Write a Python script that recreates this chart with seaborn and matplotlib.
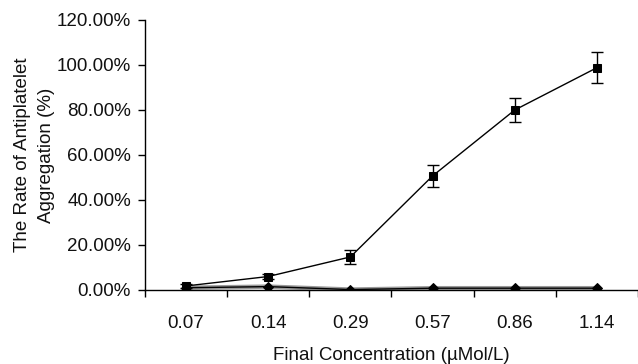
import matplotlib
matplotlib.use("Agg")
import matplotlib.pyplot as plt
import seaborn as sns
import pandas as pd
import numpy as np

concentrations = ["0.07", "0.14", "0.29", "0.57", "0.86", "1.14"]
series_a = [1.8, 6.0, 14.7, 50.7, 80.0, 98.8]
series_a_err = [0.8, 1.0, 3.0, 5.0, 5.3, 7.0]
series_b = [1.0, 1.5, 0.2, 0.8, 0.8, 0.8]
yticks = [0, 20, 40, 60, 80, 100, 120]

sns.set_theme(style="white")
plt.rcParams['font.family'] = ['Liberation Sans', 'DejaVu Sans']

FS = 13.5
fig = plt.figure(figsize=(6.38, 3.64), dpi=100)
ax = fig.add_axes([145/638, 1-290/364, 493/638, 270/364])

df_a = pd.DataFrame({"conc": concentrations, "rate": series_a})
df_b = pd.DataFrame({"conc": concentrations, "rate": series_b})

sns.lineplot(data=df_b, x="conc", y="rate", ax=ax, color="#999999", lw=3.2, zorder=2)
sns.lineplot(data=df_b, x="conc", y="rate", ax=ax, color="black", lw=1.0,
             marker="D", markersize=5, markeredgecolor="black", zorder=3)
sns.lineplot(data=df_a, x="conc", y="rate", ax=ax, color="black", lw=1.0,
             marker="s", markersize=6, markeredgecolor="black", zorder=4)
xs = np.arange(len(concentrations))
ax.errorbar(xs, series_a, yerr=series_a_err, fmt="none", ecolor="black",
            elinewidth=1.0, capsize=4, capthick=1.0, zorder=4)

ax.set_xlim(-0.5, 5.5)
ax.set_ylim(0, 120)
ax.set_yticks(yticks)
ax.set_yticklabels([f"{v:.2f}%" for v in yticks])
ax.set_xticks(xs)
ax.set_xticklabels(concentrations)
ax.set_xticks(np.arange(-0.5, 6.0, 1.0), minor=True)

for s in ["top", "right"]:
    ax.spines[s].set_visible(False)
for s in ["left", "bottom"]:
    ax.spines[s].set_color("black")
    ax.spines[s].set_linewidth(1.0)

ax.tick_params(axis="y", which="major", direction="out", length=5, width=1,
               color="black", pad=5, labelsize=FS, left=True)
ax.tick_params(axis="x", which="major", length=0, pad=18, labelsize=FS)
ax.tick_params(axis="x", which="minor", direction="out", length=5, width=1,
               color="black", bottom=True)
for lab in ax.get_xticklabels() + ax.get_yticklabels():
    lab.set_color("#111111")

ax.set_xlabel("Final Concentration (\u00b5Mol/L)", fontsize=FS, labelpad=11, color="#111111")
ax.set_ylabel("The Rate of Antiplatelet\nAggregation (%)", fontsize=FS, labelpad=1,
              color="#111111", linespacing=1.6)

fig.savefig("out.png", dpi=100)
